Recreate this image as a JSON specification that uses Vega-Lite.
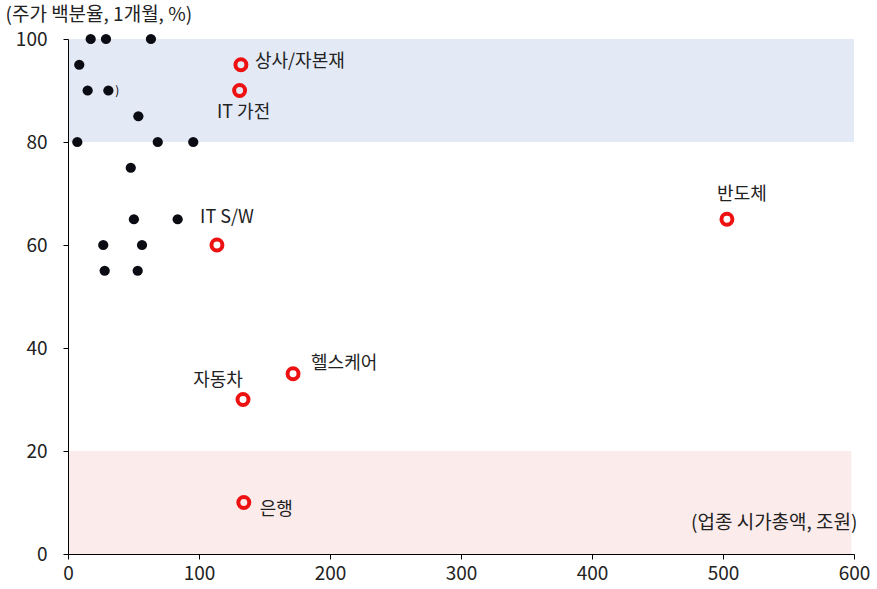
{
  "$schema": "https://vega.github.io/schema/vega-lite/v6.json",
  "width": 786,
  "height": 515,
  "autosize": {"type": "none"},
  "padding": {"left": 68, "top": 39, "right": 23, "bottom": 35},
  "config": {
    "view": {"stroke": null},
    "font": "Noto Sans CJK KR",
    "axis": {
      "grid": false,
      "labelFlush": false,
      "labelOverlap": false,
      "domainColor": "#000000",
      "tickColor": "#000000",
      "labelColor": "#222222",
      "labelFontSize": 19,
      "labelFont": "Noto Sans CJK KR",
      "titleFont": "Noto Sans CJK KR",
      "titleFontSize": 19,
      "titleFontWeight": "normal",
      "titleColor": "#222222",
      "tickSize": 5
    }
  },
  "datasets": {
    "bands": [
      {"band": "high", "x0": 0, "x1": 600, "y0": 80, "y1": 100},
      {"band": "low", "x0": 0, "x1": 598, "y0": 0, "y1": 20}
    ],
    "others": [
      {"cap": 17.3, "ret": 100},
      {"cap": 29.0, "ret": 100},
      {"cap": 63.3, "ret": 100},
      {"cap": 8.6, "ret": 95},
      {"cap": 15.0, "ret": 90},
      {"cap": 30.8, "ret": 90},
      {"cap": 53.7, "ret": 85},
      {"cap": 7.1, "ret": 80},
      {"cap": 68.5, "ret": 80},
      {"cap": 95.6, "ret": 80},
      {"cap": 47.9, "ret": 75},
      {"cap": 50.3, "ret": 65},
      {"cap": 83.7, "ret": 65},
      {"cap": 26.9, "ret": 60},
      {"cap": 56.5, "ret": 60},
      {"cap": 28.0, "ret": 55},
      {"cap": 53.2, "ret": 55}
    ],
    "sectors": [
      {"name": "상사/자본재", "cap": 132, "ret": 95},
      {"name": "IT 가전", "cap": 131, "ret": 90},
      {"name": "IT S/W", "cap": 113.7, "ret": 60},
      {"name": "반도체", "cap": 503, "ret": 65},
      {"name": "헬스케어", "cap": 171.8, "ret": 35},
      {"name": "자동차", "cap": 133.6, "ret": 30},
      {"name": "은행", "cap": 134.2, "ret": 10}
    ],
    "stray": [
      {"cap": 30.8, "ret": 90, "t": ")"}
    ]
  },
  "layer": [
    {
      "data": {"name": "bands"},
      "mark": {"type": "rect"},
      "encoding": {
        "x": {
          "field": "x0", "type": "quantitative",
          "scale": {"domain": [0, 600], "nice": false, "zero": true},
          "axis": {
            "zindex": 1,
            "values": [0, 100, 200, 300, 400, 500, 600],
            "labelPadding": 5,
            "title": "(업종 시가총액, 조원)",
            "titleX": 789,
            "titleY": -32,
            "titleAlign": "right",
            "titleBaseline": "middle",
            "titleAnchor": null
          }
        },
        "x2": {"field": "x1"},
        "y": {
          "field": "y0", "type": "quantitative",
          "scale": {"domain": [0, 100], "nice": false},
          "axis": {
            "zindex": 1,
            "values": [0, 20, 40, 60, 80, 100],
            "labelPadding": 16,
            "title": "(주가 백분율, 1개월, %)",
            "titleAngle": 0,
            "titleX": -63,
            "titleY": -25,
            "titleAlign": "left",
            "titleBaseline": "middle",
            "titleAnchor": null
          }
        },
        "y2": {"field": "y1"},
        "color": {
          "field": "band", "type": "nominal",
          "scale": {"domain": ["high", "low"], "range": ["#E3E9F5", "#FCEBEB"]},
          "legend": null
        }
      }
    },
    {
      "data": {"name": "others"},
      "mark": {"type": "circle", "size": 105, "color": "#0B0B14", "opacity": 1},
      "encoding": {
        "x": {"field": "cap", "type": "quantitative"},
        "y": {"field": "ret", "type": "quantitative"}
      }
    },
    {
      "data": {"name": "stray"},
      "mark": {"type": "text", "align": "left", "baseline": "middle", "dx": 7, "fontSize": 12, "color": "#000000"},
      "encoding": {
        "x": {"field": "cap", "type": "quantitative"},
        "y": {"field": "ret", "type": "quantitative"},
        "text": {"field": "t"}
      }
    },
    {
      "data": {"name": "sectors"},
      "mark": {"type": "point", "shape": "circle", "size": 120, "filled": false, "stroke": "#EE1111", "strokeWidth": 4, "opacity": 1},
      "encoding": {
        "x": {"field": "cap", "type": "quantitative"},
        "y": {"field": "ret", "type": "quantitative"}
      }
    },
    {
      "data": {"name": "sectors"},
      "transform": [{"filter": "datum.name === '상사/자본재'"}],
      "mark": {"type": "text", "align": "left", "baseline": "middle", "dx": 14, "dy": -3, "fontSize": 18, "color": "#222222"},
      "encoding": {
        "x": {"field": "cap", "type": "quantitative"},
        "y": {"field": "ret", "type": "quantitative"},
        "text": {"field": "name"}
      }
    },
    {
      "data": {"name": "sectors"},
      "transform": [{"filter": "datum.name === 'IT 가전'"}],
      "mark": {"type": "text", "align": "center", "baseline": "middle", "dx": 4, "dy": 22, "fontSize": 18, "color": "#222222"},
      "encoding": {
        "x": {"field": "cap", "type": "quantitative"},
        "y": {"field": "ret", "type": "quantitative"},
        "text": {"field": "name"}
      }
    },
    {
      "data": {"name": "sectors"},
      "transform": [{"filter": "datum.name === 'IT S/W'"}],
      "mark": {"type": "text", "align": "center", "baseline": "middle", "dx": 10, "dy": -27, "fontSize": 18, "color": "#222222"},
      "encoding": {
        "x": {"field": "cap", "type": "quantitative"},
        "y": {"field": "ret", "type": "quantitative"},
        "text": {"field": "name"}
      }
    },
    {
      "data": {"name": "sectors"},
      "transform": [{"filter": "datum.name === '반도체'"}],
      "mark": {"type": "text", "align": "center", "baseline": "middle", "dx": 15, "dy": -24, "fontSize": 18, "color": "#222222"},
      "encoding": {
        "x": {"field": "cap", "type": "quantitative"},
        "y": {"field": "ret", "type": "quantitative"},
        "text": {"field": "name"}
      }
    },
    {
      "data": {"name": "sectors"},
      "transform": [{"filter": "datum.name === '헬스케어'"}],
      "mark": {"type": "text", "align": "left", "baseline": "middle", "dx": 18, "dy": -10, "fontSize": 18, "color": "#222222"},
      "encoding": {
        "x": {"field": "cap", "type": "quantitative"},
        "y": {"field": "ret", "type": "quantitative"},
        "text": {"field": "name"}
      }
    },
    {
      "data": {"name": "sectors"},
      "transform": [{"filter": "datum.name === '자동차'"}],
      "mark": {"type": "text", "align": "center", "baseline": "middle", "dx": -25, "dy": -19, "fontSize": 18, "color": "#222222"},
      "encoding": {
        "x": {"field": "cap", "type": "quantitative"},
        "y": {"field": "ret", "type": "quantitative"},
        "text": {"field": "name"}
      }
    },
    {
      "data": {"name": "sectors"},
      "transform": [{"filter": "datum.name === '은행'"}],
      "mark": {"type": "text", "align": "left", "baseline": "middle", "dx": 16, "dy": 7, "fontSize": 18, "color": "#222222"},
      "encoding": {
        "x": {"field": "cap", "type": "quantitative"},
        "y": {"field": "ret", "type": "quantitative"},
        "text": {"field": "name"}
      }
    }
  ]
}
